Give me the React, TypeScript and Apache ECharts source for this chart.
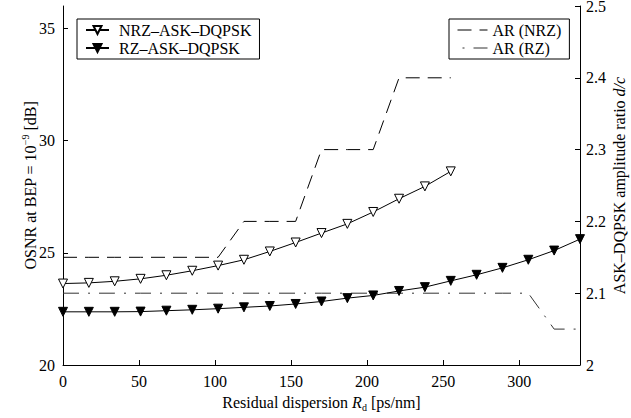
import React, { useEffect, useRef } from "react";
import * as echarts from "echarts";

const FONT = "Liberation Serif";

// Residual dispersion sample points [ps/nm]
const xNRZ = [0, 17, 34, 51, 68, 85, 102, 119, 136, 153, 170, 187, 204, 221, 238, 255];
const xRZ = [0, 17, 34, 51, 68, 85, 102, 119, 136, 153, 170, 187, 204, 221, 238, 255, 272, 289, 306, 323, 340];

// OSNR at BEP = 1e-9 [dB]
const osnrNRZ = [23.63, 23.66, 23.73, 23.84, 24.0, 24.2, 24.43, 24.69, 25.06, 25.46, 25.88, 26.29, 26.82, 27.41, 27.96, 28.63];
const osnrRZ = [22.37, 22.37, 22.37, 22.38, 22.42, 22.46, 22.51, 22.57, 22.63, 22.72, 22.83, 22.98, 23.1, 23.3, 23.47, 23.75, 24.02, 24.33, 24.69, 25.1, 25.61];

// Amplitude ratio d/c
const arNRZ = [2.15, 2.15, 2.15, 2.15, 2.15, 2.15, 2.15, 2.2, 2.2, 2.2, 2.3, 2.3, 2.3, 2.4, 2.4, 2.4];
const arRZ = [2.1, 2.1, 2.1, 2.1, 2.1, 2.1, 2.1, 2.1, 2.1, 2.1, 2.1, 2.1, 2.1, 2.1, 2.1, 2.1, 2.1, 2.1, 2.1, 2.05, 2.05];

const xTicks = [0, 50, 100, 150, 200, 250, 300];
const yLeftTicks = [20, 25, 30, 35];

const names = {
  nrz: "NRZ\u2013ASK\u2013DQPSK",
  rz: "RZ\u2013ASK\u2013DQPSK",
  arNrz: "AR (NRZ)",
  arRz: "AR (RZ)",
};

const dashNRZ = [14, 8];
const dashRZ = [16, 9, 2, 9];

const pair = (xs: number[], ys: number[]) => xs.map((x, i) => [x, ys[i]]);

export default function App() {
  const ref = useRef<HTMLDivElement>(null);
  useEffect(() => {
    if (!ref.current) return;
    const chart = echarts.init(ref.current, undefined, { renderer: "svg" });
    const txt = { fontFamily: FONT, fontSize: 16, color: "#000" };
    const axisLine = { show: true, lineStyle: { color: "#000", width: 1 } };
    const axisTick = { show: true, inside: true, length: 5, lineStyle: { color: "#000", width: 1 } };
    const option: any = {
      animation: false,
      backgroundColor: "#fff",
      textStyle: { fontFamily: FONT, color: "#000" },
      grid: { left: 63, right: 51, top: 6, bottom: 53, containLabel: false, outerBoundsMode: "none" },
      legend: [
        {
          data: [names.nrz, names.rz],
          orient: "vertical",
          left: 77,
          top: 19,
          itemWidth: 23,
          itemHeight: 10,
          itemGap: 2,
          padding: [3, 8, 3, 8],
          borderColor: "#000",
          borderWidth: 1,
          borderRadius: 0,
          backgroundColor: "#fff",
          textStyle: { ...txt, padding: [0, 0, 0, 5] },
        },
        {
          data: [
            { name: names.arNrz, itemStyle: { opacity: 0 }, lineStyle: { type: dashNRZ, color: "#000", width: 1 } },
            { name: names.arRz, itemStyle: { opacity: 0 }, lineStyle: { type: dashRZ, dashOffset: 20, color: "#333", width: 1 } },
          ],
          orient: "vertical",
          left: 449,
          top: 19,
          itemWidth: 30,
          itemHeight: 10,
          itemGap: 2,
          padding: [3, 8, 3, 8],
          borderColor: "#000",
          borderWidth: 1,
          borderRadius: 0,
          backgroundColor: "#fff",
          textStyle: { ...txt },
        },
      ],
      xAxis: {
        type: "value",
        min: 0,
        max: 340,
        interval: 50,
        splitLine: { show: false },
        axisLine,
        axisTick: { ...axisTick, customValues: xTicks },
        axisLabel: { ...txt, margin: 8, customValues: xTicks },
        name: "Residual dispersion {i|R}{sub|d} [ps/nm]",
        nameLocation: "middle",
        nameGap: 27,
        nameMoveOverlap: false,
        nameTextStyle: {
          ...txt,
          lineHeight: 20,
          rich: {
            i: { fontFamily: FONT, fontSize: 16, fontStyle: "italic", color: "#000" },
            sub: { fontFamily: FONT, fontSize: 10, color: "#000", verticalAlign: "bottom", lineHeight: 12 },
          },
        },
      },
      yAxis: [
        {
          type: "value",
          min: 20,
          max: 36,
          interval: 5,
          position: "left",
          splitLine: { show: false },
          axisLine,
          axisTick: { ...axisTick, customValues: yLeftTicks },
          axisLabel: { ...txt, margin: 8, customValues: yLeftTicks },
          name: "OSNR at BEP = 10{sup|\u22129} [dB]",
          nameLocation: "middle",
          nameRotate: 90,
          nameGap: 23,
          nameMoveOverlap: false,
          nameTextStyle: {
            ...txt,
            lineHeight: 20,
            rich: {
              sup: { fontFamily: FONT, fontSize: 10, color: "#000", verticalAlign: "top", lineHeight: 10 },
            },
          },
        },
        {
          type: "value",
          min: 2,
          max: 2.5,
          interval: 0.1,
          position: "right",
          splitLine: { show: false },
          axisLine,
          axisTick,
          axisLabel: { ...txt, margin: 6, lineHeight: 12 },
          name: "ASK\u2013DQPSK amplitude ratio {i|d/c}",
          nameLocation: "middle",
          nameRotate: 90,
          nameGap: 31,
          nameMoveOverlap: false,
          nameTextStyle: {
            ...txt,
            rich: {
              i: { fontFamily: FONT, fontSize: 16, fontStyle: "italic", color: "#000" },
            },
          },
        },
      ],
      series: [
        {
          name: names.nrz,
          type: "line",
          yAxisIndex: 0,
          data: pair(xNRZ, osnrNRZ),
          symbol: "triangle",
          symbolRotate: 180,
          symbolSize: 9,
          lineStyle: { color: "#000", width: 1 },
          itemStyle: { color: "#fff", borderColor: "#000", borderWidth: 1 },
          z: 3,
        },
        {
          name: names.rz,
          type: "line",
          yAxisIndex: 0,
          data: pair(xRZ, osnrRZ),
          symbol: "triangle",
          symbolRotate: 180,
          symbolSize: 9,
          lineStyle: { color: "#000", width: 1 },
          itemStyle: { color: "#000", borderColor: "#000", borderWidth: 1 },
          z: 3,
        },
        {
          name: names.arNrz,
          type: "line",
          yAxisIndex: 1,
          data: pair(xNRZ, arNRZ),
          symbol: "circle",
          symbolSize: 1,
          showSymbol: false,
          lineStyle: { color: "#000", width: 1, type: dashNRZ },
          itemStyle: { color: "#000" },
          z: 2,
        },
        {
          name: names.arRz,
          type: "line",
          yAxisIndex: 1,
          data: pair(xRZ, arRZ),
          symbol: "circle",
          symbolSize: 1,
          showSymbol: false,
          lineStyle: { color: "#333", width: 1, type: dashRZ },
          itemStyle: { color: "#333" },
          z: 2,
        },
      ],
    };
    chart.setOption(option);
    return () => chart.dispose();
  }, []);
  return (
    <div
      ref={ref}
      style={{ position: "fixed", left: 0, top: 0, width: 631, height: 418, background: "#fff" }}
    />
  );
}
